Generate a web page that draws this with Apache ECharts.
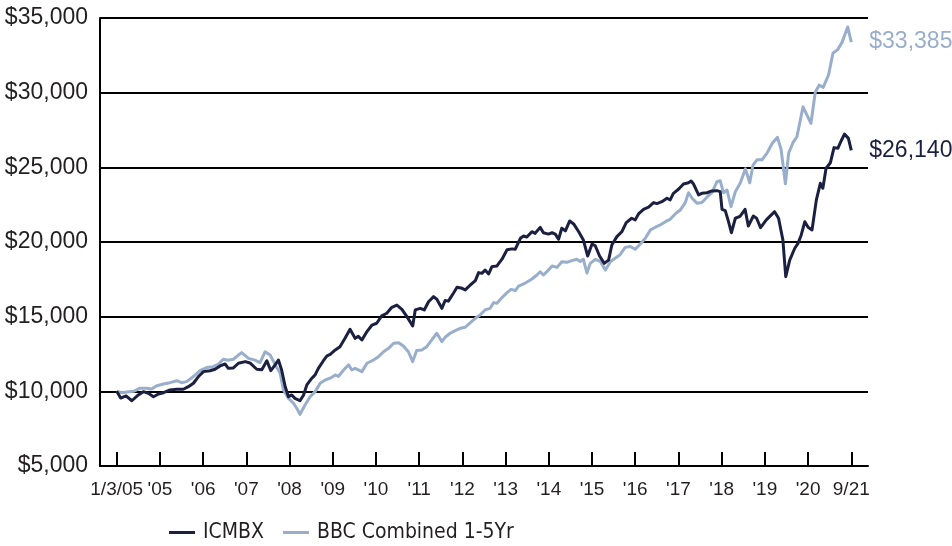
<!DOCTYPE html>
<html><head><meta charset="utf-8">
<script src="https://cdn.jsdelivr.net/npm/echarts@6/dist/echarts.min.js"></script>
<style>html,body{margin:0;padding:0;background:#fff}#c{width:952px;height:546px}</style>
</head><body><div id="c"></div>
<script>
// Tick labels along the x axis (evenly spaced, 12 position-units apart)
const tickLabels = ["1/3/05","'05","'06","'07","'08","'09","'10","'11","'12","'13","'14","'15","'16","'17","'18","'19","'20","9/21"];
const tickPositions = tickLabels.map((_, i) => i * 12);

// ICMBX: position along axis (months from first tick) and growth of $10,000
const icmbxPos = [0,1.1,2.6,4.2,6.0,7.4,8.8,10.2,11.6,13.0,
14.8,16.7,18.5,19.9,21.3,22.7,24.1,25.9,27.3,28.7,
30.1,31.0,32.4,33.8,35.7,37.0,38.9,40.3,41.7,42.8,
44.0,44.9,45.8,46.8,47.7,48.6,49.5,50.9,51.9,52.8,
54.2,55.1,56.0,57.4,58.4,59.3,60.7,62.0,63.4,64.8,
66.2,67.1,68.1,69.5,70.9,72.2,73.6,75.0,76.4,77.8,
79.2,80.6,82.2,82.9,84.3,85.4,86.6,88.0,88.9,90.3,
91.2,92.1,93.5,94.5,95.9,96.8,98.2,99.6,100.5,101.4,
102.3,103.3,104.2,105.6,107.0,108.4,109.8,110.7,112.1,113.0,
113.9,115.3,116.2,117.6,118.5,119.9,120.9,121.8,122.7,123.6,
124.6,125.8,126.9,128.3,129.6,130.8,132.0,132.9,134.1,135.4,
136.6,137.5,138.9,140.3,141.5,143.0,144.0,144.9,146.3,147.7,
149.1,150.0,151.4,152.8,153.7,154.6,156.0,157.4,158.8,159.5,
160.2,161.6,162.5,163.9,165.3,166.7,167.6,168.1,169.0,169.9,
170.7,171.8,173.1,174.5,175.4,176.8,177.7,178.8,180.4,182.7,
183.8,185.0,185.8,186.9,188.3,189.2,190.1,191.1,192.0,193.1,
194.3,195.4,196.1,197.0,198.2,199.2,200.3,201.2,202.1,203.2,
204.0];
const icmbxValue = [10000,9550,9690,9370,9760,9980,9870,9640,9820,9910,
10090,10140,10140,10310,10540,10990,11320,11380,11480,11700,
11830,11540,11570,11880,11990,11900,11480,11440,12050,11380,
11770,12100,11430,10310,9640,9760,9530,9370,9760,10430,
10880,11100,11540,12050,12370,12470,12770,12990,13550,14150,
13550,13680,13440,14000,14440,14560,15050,15230,15630,15780,
15490,15000,14380,15450,15560,15450,16000,16340,16170,15560,
16080,16040,16570,16970,16900,16790,17120,17410,17950,17900,
18120,17860,18350,18400,18850,19480,19540,19520,20250,20400,
20330,20690,20580,20980,20620,20530,20620,20530,20180,20920,
20750,21410,21210,20690,20130,19060,19870,19750,19060,18570,
18790,19800,20360,20690,21300,21590,21480,21880,22190,22330,
22640,22570,22700,22930,22820,23260,23530,23880,23970,24080,
23880,23150,23260,23300,23420,23440,23370,22190,22100,21360,
20620,21590,21720,22190,21070,21740,21590,20960,21480,22030,
21590,20140,17680,18790,19580,19910,20470,21360,20990,20810,
22820,23930,23600,24940,25310,26320,26280,26780,27230,26940,
26140];

// BBC Combined 1-5Yr
const bbcPos = [0,1.5,2.9,4.7,6.5,8.3,9.7,11.0,12.9,14.8,
16.7,18.0,19.4,21.3,23.1,25.0,26.8,28.2,29.6,31.0,
32.4,33.8,34.7,36.6,38.4,39.8,41.2,42.6,44.4,45.4,
46.3,47.7,49.1,50.0,50.9,52.3,53.7,55.1,56.5,57.9,
59.3,60.7,61.6,63.0,64.4,65.3,66.2,68.1,69.5,71.3,
72.7,74.1,75.5,76.9,78.3,79.6,81.0,82.2,83.3,84.7,
86.1,87.5,88.9,90.3,91.2,92.6,94.0,95.4,96.8,98.2,
99.6,100.9,102.3,103.7,104.7,105.6,106.8,108.4,109.5,110.7,
111.6,113.0,114.4,115.3,116.7,117.6,118.5,119.9,120.9,122.3,
123.6,125.0,126.4,127.8,128.7,129.6,130.6,131.5,132.9,134.3,
135.7,137.1,138.4,139.8,141.2,142.6,144.0,145.4,146.8,148.2,
149.6,151.0,152.4,153.7,155.1,156.5,157.9,158.8,159.8,161.2,
162.5,163.9,165.3,166.7,167.6,168.5,169.5,170.6,171.8,173.2,
174.6,175.8,176.7,177.8,179.2,180.6,182.0,183.5,184.5,185.7,
186.6,187.8,188.9,190.6,191.7,192.8,194.0,195.1,196.2,197.7,
198.9,200.2,201.4,203.0,204.0];
const bbcValue = [10000,9910,9960,10000,10210,10210,10150,10360,10490,10580,
10710,10580,10650,10990,11380,11590,11650,11810,12150,12080,
12150,12430,12590,12210,12090,11920,12650,12430,11610,11210,
10090,9530,9200,8870,8460,9090,9640,9980,10540,10760,
10880,11100,11000,11430,11770,11430,11540,11320,11880,12100,
12320,12650,12880,13220,13260,13040,12650,11990,12730,12770,
12990,13440,13890,13330,13620,13890,14060,14220,14290,14600,
14890,15110,15450,15560,15940,15900,16230,16610,16830,16750,
17050,17190,17390,17520,17790,18010,17790,18120,18390,18300,
18680,18640,18750,18840,18700,18840,17920,18570,18840,18700,
18120,18680,18910,19150,19640,19700,19510,19870,20250,20810,
20990,21150,21360,21520,21880,22140,22640,23300,22930,22590,
22640,23000,23300,24040,24100,23300,23480,22370,23370,23970,
24900,23970,25150,25500,25500,25950,26600,27010,26200,23900,
25940,26650,27050,29050,28500,27950,30030,30510,30350,31200,
32640,32880,33350,34400,33385];

const DARK = '#1b2040';
const LIGHT = '#98aecb';
const fmt = v => '$' + Number(v).toLocaleString('en-US');

const chart = echarts.init(document.getElementById('c'), null, {renderer: 'canvas'});
chart.setOption({
  animation: false,
  textStyle: {fontFamily: 'Liberation Sans, Arial, sans-serif'},
  grid: {left: 100, right: 84, top: 18, bottom: 80},
  legend: {
    left: 169, top: 522, padding: 0,
    icon: 'rect', itemWidth: 26, itemHeight: 3, itemGap: 19,
    textStyle: {fontSize: 21, color: '#231f20', fontFamily: "'DejaVu Sans Condensed', 'Liberation Sans Narrow', sans-serif", padding: [0, 0, 0, 3]},
    data: ['ICMBX', 'BBC Combined 1-5Yr']
  },
  xAxis: {
    type: 'value', min: -4.64, max: 208.64,
    splitLine: {show: false},
    axisLine: {show: true, onZero: false, lineStyle: {color: '#000', width: 2}},
    axisTick: {show: true, inside: true, length: 14, customValues: tickPositions, lineStyle: {color: '#000', width: 2}},
    axisLabel: {customValues: tickPositions, formatter: v => tickLabels[Math.round(v / 12)], fontSize: 19, color: '#231f20', margin: 14}
  },
  yAxis: {
    type: 'value', min: 5000, max: 35000, interval: 5000,
    axisLine: {show: true, onZero: false, lineStyle: {color: '#000', width: 2}},
    axisTick: {show: false},
    splitLine: {show: true, lineStyle: {color: '#000', width: 2}},
    axisLabel: {formatter: fmt, fontSize: 23, color: '#231f20', margin: 12}
  },
  series: [
    {
      name: 'ICMBX', type: 'line', z: 3, symbol: 'none', showSymbol: false,
      data: icmbxPos.map((p, i) => [p, icmbxValue[i]]),
      lineStyle: {width: 3, color: DARK, join: 'round'}, itemStyle: {color: DARK},
      endLabel: {show: true, formatter: p => fmt(p.value[1]), distance: 18, fontSize: 23, color: DARK}
    },
    {
      name: 'BBC Combined 1-5Yr', type: 'line', z: 2, symbol: 'none', showSymbol: false,
      data: bbcPos.map((p, i) => [p, bbcValue[i]]),
      lineStyle: {width: 3, color: LIGHT, join: 'round'}, itemStyle: {color: LIGHT},
      endLabel: {show: true, formatter: p => fmt(p.value[1]), distance: 18, fontSize: 23, color: LIGHT}
    }
  ]
});
</script>
</body></html>
